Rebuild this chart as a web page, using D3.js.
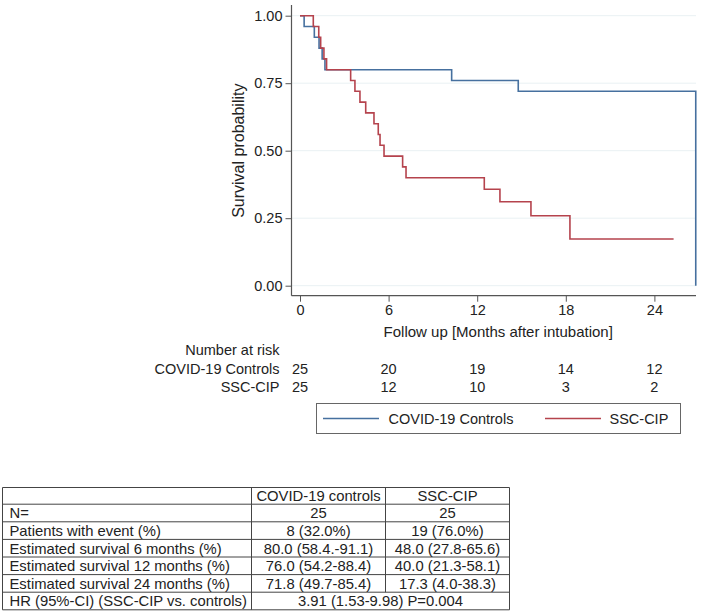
<!DOCTYPE html>
<html>
<head>
<meta charset="utf-8">
<script src="https://cdn.jsdelivr.net/npm/d3@7"></script>
<style>
  body { margin: 0; background: #fff; }
  text { font-family: "Liberation Sans", Arial, Helvetica, sans-serif; fill: #222; }
</style>
</head>
<body>
<svg id="chart" width="710" height="612"></svg>
<script>
// Kaplan-Meier steps (months, survival)
var controlTimes = [0, 0.28, 0.97, 1.29, 1.50, 1.69, 10.27, 14.78, 26.8];
var controlSurv  = [1, 0.96, 0.92, 0.88, 0.84, 0.80, 0.76, 0.72, 0];

var sscTimes = [0, 0.90, 1.27, 1.40, 1.62, 1.80, 3.43, 3.72, 4.06, 4.45, 5.01,
    5.30, 5.42, 5.69, 6.95, 7.18, 12.48, 13.54, 15.64, 18.28, 25.3];
var sscSurv  = [1, 0.96, 0.92, 0.88, 0.84, 0.80, 0.76, 0.72, 0.68, 0.64, 0.60,
    0.56, 0.52, 0.48, 0.44, 0.40, 0.357, 0.311, 0.259, 0.173, 0.173];

var xTicks = [0, 6, 12, 18, 24];
var yTicks = [0, 0.25, 0.5, 0.75, 1];

var groupNames = ["COVID-19 Controls", "SSC-CIP"];
var riskControls = [25, 20, 19, 14, 12];
var riskSsc = [25, 12, 10, 3, 2];

var tableHeader = ["", "COVID-19 controls", "SSC-CIP"];
var tableLabels = ["N=", "Patients with event (%)", "Estimated survival 6 months (%)",
    "Estimated survival 12 months (%)", "Estimated survival 24 months (%)"];
var tableControls = ["25", "8 (32.0%)", "80.0 (58.4.-91.1)", "76.0 (54.2-88.4)", "71.8 (49.7-85.4)"];
var tableSsc = ["25", "19 (76.0%)", "48.0 (27.8-65.6)", "40.0 (21.3-58.1)", "17.3 (4.0-38.3)"];
var hrLabel = "HR (95%-CI) (SSC-CIP vs. controls)";
var hrValue = "3.91 (1.53-9.98) P=0.004";

var blue = "#46709f";
var red = "#b5434d";

var svg = d3.select("#chart");

var x = d3.scaleLinear().domain([0, 24]).range([300, 654.4]);
var y = d3.scaleLinear().domain([0, 1]).range([285.7, 15.7]);

var plotLeft = 291.5, plotRight = 696, plotTop = 5, plotBottom = 295.7;

// light grid
svg.append("g")
    .selectAll("line")
    .data(yTicks)
    .enter()
    .append("line")
    .attr("x1", plotLeft)
    .attr("x2", plotRight)
    .attr("y1", function(d) { return y(d); })
    .attr("y2", function(d) { return y(d); })
    .style("stroke", "#e9f1f3")
    .style("stroke-width", 1);

// axes
var yAxis = d3.axisLeft(y).tickValues(yTicks).tickFormat(d3.format(".2f")).tickSize(6).tickPadding(3);
var gy = svg.append("g").attr("transform", "translate(" + plotLeft + ",0)").call(yAxis);
gy.select(".domain").remove();
gy.selectAll("text").style("font-size", "14.5px").style("fill", "#222");
gy.selectAll("line").style("stroke", "#555");

var xAxis = d3.axisBottom(x).tickValues(xTicks).tickSize(6).tickPadding(3);
var gx = svg.append("g").attr("transform", "translate(0," + plotBottom + ")").call(xAxis);
gx.select(".domain").remove();
gx.selectAll("text").style("font-size", "14.5px").style("fill", "#222");
gx.selectAll("line").style("stroke", "#555");

svg.append("line")
    .attr("x1", plotLeft).attr("x2", plotLeft)
    .attr("y1", plotTop).attr("y2", plotBottom)
    .style("stroke", "#555").style("stroke-width", 1.2);
svg.append("line")
    .attr("x1", plotLeft).attr("x2", plotRight)
    .attr("y1", plotBottom).attr("y2", plotBottom)
    .style("stroke", "#555").style("stroke-width", 1.2);

svg.append("text")
    .attr("transform", "translate(244," + ((y(0) + y(1)) / 2) + ") rotate(-90)")
    .attr("text-anchor", "middle")
    .style("font-size", "16px")
    .text("Survival probability");

svg.append("text")
    .attr("x", (x(0) + x(24)) / 2 + 21)
    .attr("y", 337)
    .attr("text-anchor", "middle")
    .style("font-size", "15px")
    .text("Follow up [Months after intubation]");

// survival curves
var step = d3.line()
    .x(function(d) { return x(d[0]); })
    .y(function(d) { return y(d[1]); })
    .curve(d3.curveStepAfter);

svg.append("path")
    .datum(d3.zip(controlTimes, controlSurv))
    .attr("d", step)
    .style("fill", "none")
    .style("stroke", blue)
    .style("stroke-width", 1.6);

svg.append("path")
    .datum(d3.zip(sscTimes, sscSurv))
    .attr("d", step)
    .style("fill", "none")
    .style("stroke", red)
    .style("stroke-width", 1.6);

// number at risk
var labelRight = 279.5;
svg.append("text")
    .attr("x", labelRight).attr("y", 355)
    .attr("text-anchor", "end")
    .style("font-size", "14.5px")
    .text("Number at risk");

[riskControls, riskSsc].forEach(function(row, i) {
    var yy = 373.5 + i * 18.3;
    svg.append("text")
        .attr("x", labelRight).attr("y", yy)
        .attr("text-anchor", "end")
        .style("font-size", "14.5px")
        .text(groupNames[i]);
    svg.append("g")
        .selectAll("text")
        .data(row)
        .enter()
        .append("text")
        .attr("x", function(d, j) { return x(xTicks[j]); })
        .attr("y", yy)
        .attr("text-anchor", "middle")
        .style("font-size", "14.5px")
        .text(function(d) { return d; });
});

// legend
var legend = svg.append("g");
legend.append("rect")
    .attr("x", 316.5).attr("y", 403.5)
    .attr("width", 364).attr("height", 30)
    .style("fill", "#fff")
    .style("stroke", "#666")
    .style("stroke-width", 1);
[[blue, 323, 388.5], [red, 545, 609.5]].forEach(function(item, i) {
    legend.append("line")
        .attr("x1", item[1]).attr("x2", item[1] + 56)
        .attr("y1", 418.5).attr("y2", 418.5)
        .style("stroke", item[0]).style("stroke-width", 1.6);
    legend.append("text")
        .attr("x", item[2]).attr("y", 423.5)
        .style("font-size", "14.5px")
        .text(groupNames[i]);
});

// summary table
var colEdges = [2.5, 251.5, 385.5, 509.5];
var rowEdges = [487.5, 504.2];
for (var r = 0; r < tableLabels.length + 1; r++) {
    rowEdges.push(rowEdges[rowEdges.length - 1] + 17.6);
}

var table = svg.append("g");
table.selectAll("line.row")
    .data(rowEdges)
    .enter()
    .append("line")
    .attr("class", "row")
    .attr("x1", colEdges[0]).attr("x2", colEdges[3])
    .attr("y1", function(d) { return d; })
    .attr("y2", function(d) { return d; })
    .style("stroke", "#444").style("stroke-width", 1);

var last = rowEdges.length - 1;
colEdges.forEach(function(cx, i) {
    var yEnd = (i == 2) ? rowEdges[last - 1] : rowEdges[last];
    table.append("line")
        .attr("x1", cx).attr("x2", cx)
        .attr("y1", rowEdges[0]).attr("y2", yEnd)
        .style("stroke", "#444").style("stroke-width", 1);
});

function cellText(txt, col, row, center) {
    var ty = (rowEdges[row] + rowEdges[row + 1]) / 2 + 5.3;
    var tx = center ? (colEdges[col] + colEdges[col + 1]) / 2 : colEdges[col] + 7;
    table.append("text")
        .attr("x", tx).attr("y", ty)
        .attr("text-anchor", center ? "middle" : "start")
        .style("font-size", "14.8px")
        .text(txt);
}

cellText(tableHeader[1], 1, 0, true);
cellText(tableHeader[2], 2, 0, true);
tableLabels.forEach(function(lab, i) {
    cellText(lab, 0, i + 1, false);
    cellText(tableControls[i], 1, i + 1, true);
    cellText(tableSsc[i], 2, i + 1, true);
});
cellText(hrLabel, 0, last - 1, false);
table.append("text")
    .attr("x", (colEdges[1] + colEdges[3]) / 2)
    .attr("y", (rowEdges[last - 1] + rowEdges[last]) / 2 + 5.3)
    .attr("text-anchor", "middle")
    .style("font-size", "14.8px")
    .text(hrValue);
</script>
</body>
</html>
